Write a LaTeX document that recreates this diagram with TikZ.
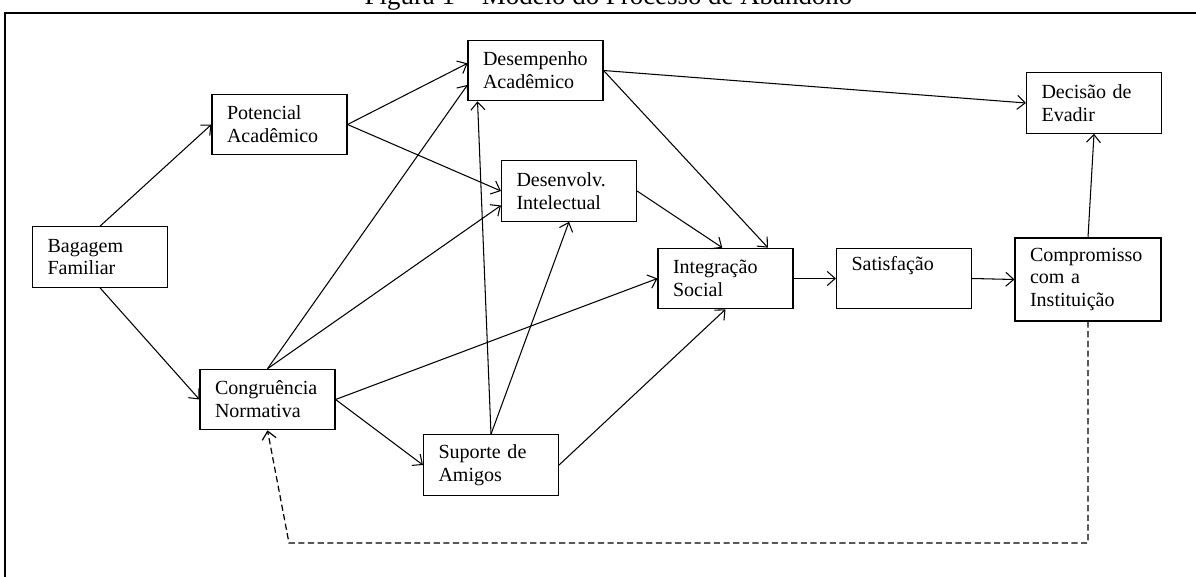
\documentclass[tikz,border=0pt]{standalone}
\usepackage{fontspec}
\setmainfont{Liberation Serif}
\usetikzlibrary{arrows.meta}

\begin{document}
\begin{tikzpicture}[x=0.02cm,y=-0.02cm,
   caixa/.style={draw,line width=0.65pt,align=left,inner xsep=0.3cm,inner ysep=0pt,
      text width=2.1cm,minimum height=1.21cm,font=\fontsize{11.4}{13}\selectfont},
   larga/.style={caixa,text width=2.32cm,minimum height=1.66cm},
   seta/.style={->,line width=0.6pt},
   >={Straight Barb[length=4.5pt,width=8pt]}]
   \useasboundingbox (0,0) rectangle (1196,577);
   % titulo e moldura
   \node[anchor=base,font=\fontsize{15.3}{18}\selectfont] (titulo) at (608.5,5) {Figura 1 – Modelo do Processo de Abandono};
   \draw[line width=1.1pt] (5,620) -- (5,13) -- (1260,13);
   % blocos
   \node[caixa] (bag)    at (100,257)   {Bagagem\\Familiar};
   \node[caixa] (pot)    at (279.5,124.5) {Potencial\\Acadêmico};
   \node[caixa] (cong)   at (267.5,399.5) {Congruência\\Normativa};
   \node[caixa] (desemp) at (535.5,70.5) {Desempenho\\Acadêmico};
   \node[caixa] (desenv) at (569,191)   {Desenvolv.\\Intelectual};
   \node[caixa] (integ)  at (725.5,278.5) {Integração\\Social};
   \node[caixa] (sup)    at (491,465)   {Suporte de\\Amigos};
   \node[caixa] (satis)  at (904,278.5) {Satisfação\\\strut};
   \node[larga] (comp)   at (1088,279.5) {Compromisso\\com a\\Instituição};
   \node[caixa] (dec)    at (1094,103)  {Decisão de\\Evadir};
   % ligacoes
   \path[seta]
   (bag.north)  edge (pot.west)
   (bag.south)  edge (cong.west)
   (pot.east)   edge (desemp.174)
                edge (desenv.west)
   (cong.north) edge (desemp.192)
                edge (desenv.192)
   (cong.east)  edge (integ.west)
                edge (sup.west)
   (sup.north)  edge (desemp.208)
                edge (desenv.south)
   (sup.east)   edge (integ.south)
   (desemp.east) edge (dec.west)
                edge (integ.36)
   (desenv.east) edge (integ.96)
   (integ.east) edge (satis.west)
   (satis.east) edge (comp.west)
   (comp.north) edge (dec.south);
   % retorno tracejado
   \coordinate (r1) at (1088,543);
   \coordinate (r2) at (289,543);
   \draw[seta,line width=0.7pt,dash pattern=on 3.5pt off 2pt] (comp.south) -- (r1) -- (r2) -- (cong.south);
\end{tikzpicture}
\end{document}
